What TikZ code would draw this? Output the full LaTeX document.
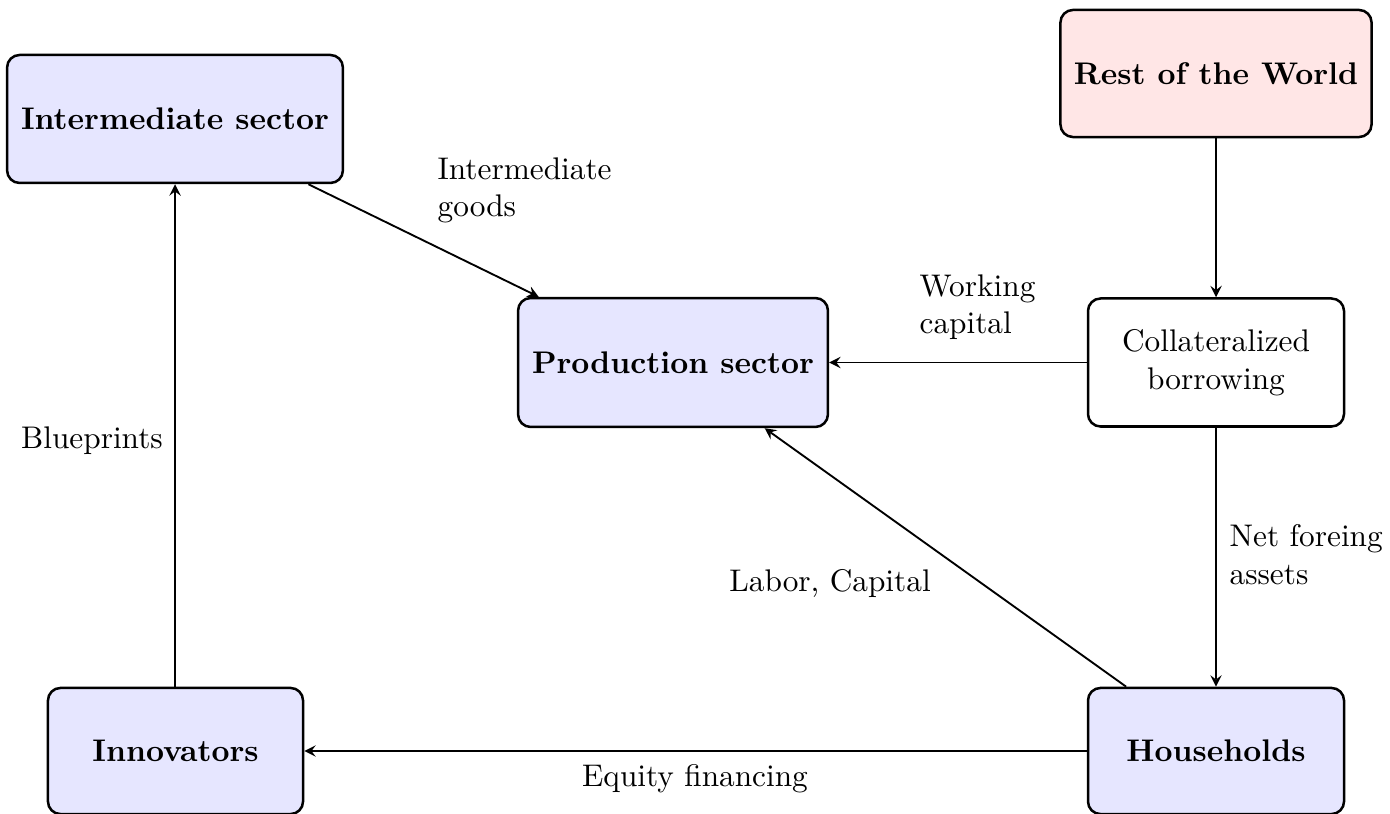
\documentclass[tikz,border=0pt]{standalone}
\usetikzlibrary{arrows.meta}
\definecolor{boxblue}{RGB}{230,230,255}
\definecolor{boxred}{RGB}{255,230,230}
\tikzset{
  box/.style={draw, thick, rounded corners, align=center, inner sep=2pt},
  bluebox/.style={box, fill=boxblue, font=\bfseries},
  arr/.style={-stealth, semithick},
  lbl/.style={inner sep=0pt, align=left},
}
\begin{document}
\begin{tikzpicture}[x=0.3195pt, y=-0.3195pt]
\useasboundingbox (0,0) rectangle (1390,814);
% nodes
\node[bluebox, minimum width=107.3pt, minimum height=40.9pt] (inter) at (175,119) {Intermediate sector};
\node[box, fill=boxred, font=\bfseries, minimum width=99.4pt, minimum height=40.6pt] (row) at (1216,73.5) {Rest of the World};
\node[bluebox, minimum width=99pt, minimum height=41.2pt] (prod) at (673,362.5) {Production sector};
\node[box, minimum width=81.8pt, minimum height=40.9pt] (coll) at (1216,362.5) {Collateralized\\borrowing};
\node[bluebox, minimum width=81.5pt, minimum height=40.3pt] (inn) at (175.5,751) {Innovators};
\node[bluebox, minimum width=81.8pt, minimum height=40.3pt] (hh) at (1216,751) {Households};
% connectors
\draw[arr] (inter) -- (prod);
\draw[arr] (row) -- (coll);
\draw[arr] (coll) -- (prod);
\draw[arr] (coll) -- (hh);
\draw[arr] (hh) -- (prod);
\draw[arr] (hh) -- (inn);
\draw[arr] (inn.north -| inter.south) -- (inter.south);
% labels
\node[lbl, anchor=north west] (lig) at (437,157) {Intermediate\\goods};
\node[lbl, anchor=north west] (lwc) at (919,274) {Working\\capital};
\node[lbl, anchor=north west] (lnfa) at (1229,524) {Net foreing\\assets};
\node[lbl, anchor=base] (llc) at (830,592) {Labor, Capital};
\node[lbl, anchor=base] (lef) at (695,787) {Equity financing};
\node[lbl, anchor=base] (lbp) at (92,449) {Blueprints};
\end{tikzpicture}
\end{document}
